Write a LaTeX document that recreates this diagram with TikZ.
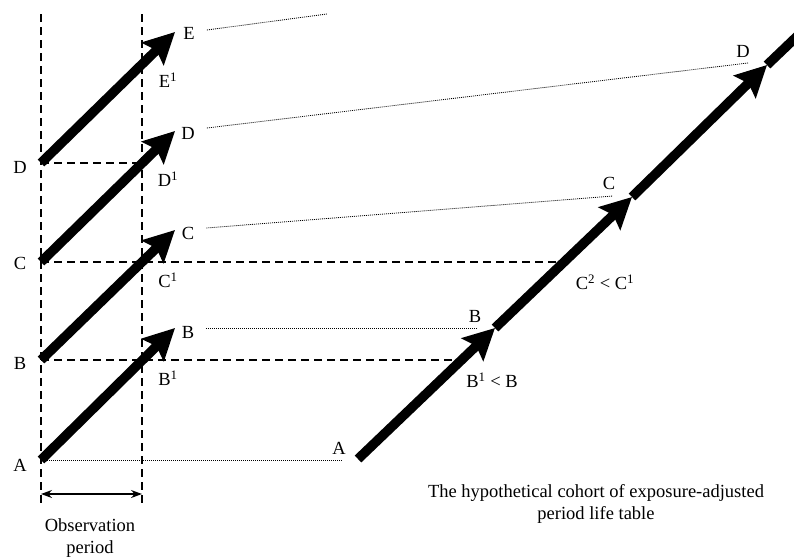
\documentclass[tikz,border=0pt]{standalone}
\usepackage{fontspec}
\setmainfont{Liberation Serif}
\usetikzlibrary{arrows.meta}

\tikzset{
    life/.style={line width=9.5pt, -{Stealth[length=31pt,width=31pt,inset=5pt]}},
    grid line/.style={line width=1.2pt, dash pattern=on 8pt off 5pt},
    link/.style={line width=0.8pt, dash pattern=on 1pt off 1pt},
    lbl/.style={inner sep=0pt, font=\fontsize{18.5}{22}\selectfont},
}

\begin{document}
\begin{tikzpicture}[x=1pt, y=-1pt]
    \useasboundingbox (0,0) rectangle (794,557);
    \clip (0,0) rectangle (794,557);

    % observation window
    \coordinate (topL) at (41,14);
    \coordinate (botL) at (41,505);
    \coordinate (topR) at (142,14);
    \coordinate (botR) at (142,505);
    \draw [grid line] (topL) -- (botL);
    \draw [grid line] (topR) -- (botR);

    % tails and tips of the period arrows
    \coordinate (A0) at (41,460);
    \coordinate (B0) at (41,360);
    \coordinate (C0) at (41,262);
    \coordinate (D0) at (41,163);
    \coordinate (B1) at (175,328);
    \coordinate (C1) at (175,230);
    \coordinate (D1) at (175,131);
    \coordinate (E1) at (175,32);

    % the hypothetical cohort
    \coordinate (Ar) at (358,459);
    \coordinate (Br) at (495,328);
    \coordinate (Cr) at (632,197);
    \coordinate (Dr) at (767,65);
    \coordinate (Er) at (812,22);

    \coordinate (dEnd) at (142,163);
    \coordinate (cEnd) at (562,262);
    \coordinate (bEnd) at (462,360);
    \coordinate (aEnd) at (342,460);

    \draw [grid line] (D0) -- (dEnd);
    \draw [grid line] (C0) -- (cEnd);
    \draw [grid line] (B0) -- (bEnd);
    \draw [link] (A0) -- (aEnd);

    \draw [life] (A0) -- (B1);
    \draw [life] (B0) -- (C1);
    \draw [life] (C0) -- (D1);
    \draw [life] (D0) -- (E1);

    \draw [life] (Ar) -- (Br);
    \draw [life] (Br) -- (Cr);
    \draw [life] (Cr) -- (Dr);
    \draw [line width=9.5pt] (Dr) -- (Er);

    % labels at the left
    \node [lbl] (lA) at (20,465) {A};
    \node [lbl] (lB) at (20,363) {B};
    \node [lbl] (lC) at (20,263) {C};
    \node [lbl] (lD) at (20,167) {D};

    \node [lbl] (tB) at (188,332) {B};
    \node [lbl] (tC) at (188,233) {C};
    \node [lbl] (tD) at (188,133) {D};
    \node [lbl] (tE) at (189,33) {E};

    \node [lbl] (sB) at (168,378) {B\textsuperscript{1}};
    \node [lbl] (sC) at (168,280) {C\textsuperscript{1}};
    \node [lbl] (sD) at (168,179) {D\textsuperscript{1}};
    \node [lbl] (sE) at (168,80) {E\textsuperscript{1}};

    % labels along the cohort
    \node [lbl] (rA) at (339,448) {A};
    \node [lbl] (rB) at (475,316) {B};
    \node [lbl] (rC) at (609,183) {C};
    \node [lbl] (rD) at (743,51) {D};
    \node [lbl] (rB1) at (492,380) {B\textsuperscript{1} < B};
    \node [lbl] (rC2) at (605,282) {C\textsuperscript{2} < C\textsuperscript{1}};

    % dotted links
    \coordinate (bTo) at (477,328);
    \coordinate (cTo) at (613,196);
    \coordinate (dTo) at (748,63);
    \coordinate (eTo) at (327,14);
    \draw [link] ([xshift=12pt,yshift=4pt]tB.east) -- (bTo);
    \draw [link] ([xshift=12pt,yshift=5pt]tC.east) -- (cTo);
    \draw [link] ([xshift=12pt,yshift=5pt]tD.east) -- (dTo);
    \draw [link] ([xshift=12pt,yshift=3pt]tE.east) -- (eTo);

    % observation period
    \coordinate (obsL) at (41,494);
    \coordinate (obsR) at (142,494);
    \draw [line width=1.3pt, {Stealth[length=11pt,width=8pt]}-{Stealth[length=11pt,width=8pt]}]
        (obsL) -- (obsR)
        ;
    \node [lbl, align=center] (obs) at (90,538) {Observation\\period};

    \node [lbl, align=center] (cap) at (596,504)
        {The hypothetical cohort of exposure-adjusted\\period life table};
\end{tikzpicture}
\end{document}
